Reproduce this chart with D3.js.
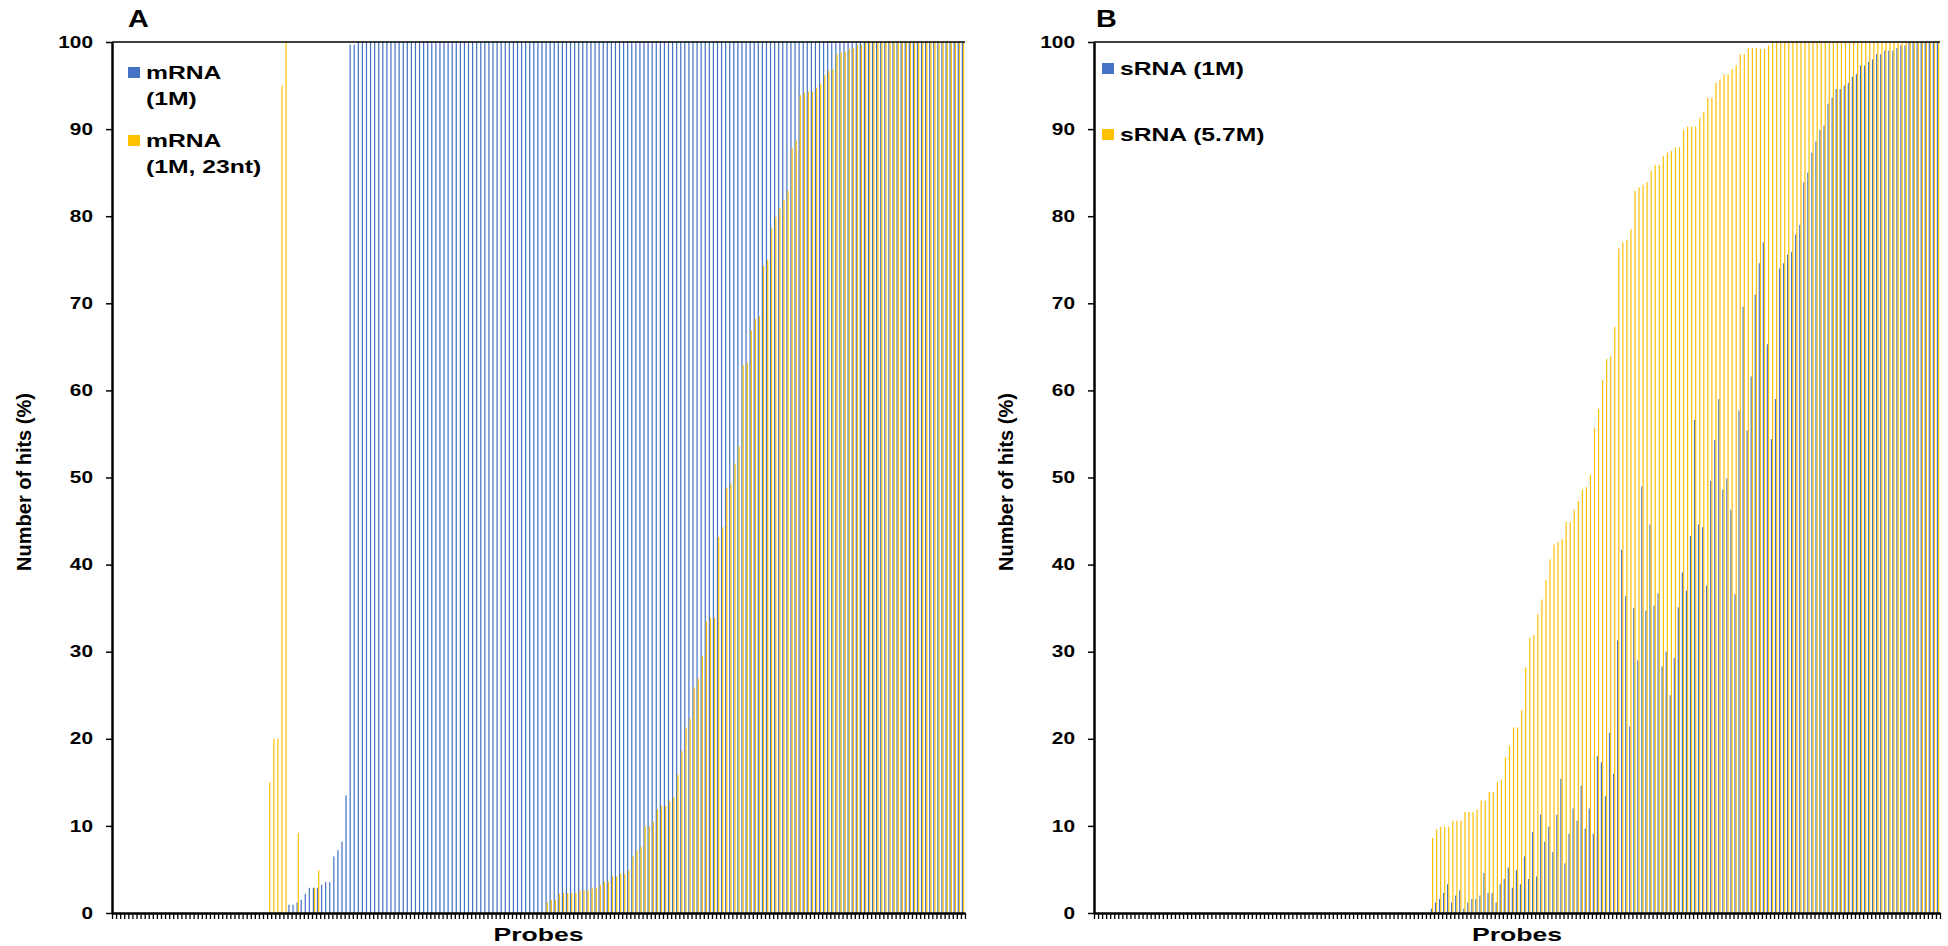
<!DOCTYPE html>
<html>
<head>
<meta charset="utf-8">
<script src="https://cdn.jsdelivr.net/npm/d3@7"></script>
<style>
  body { margin: 0; background: #fff; }
  svg { display: block; font-family: "Liberation Sans", Arial, sans-serif; font-weight: bold; }
</style>
</head>
<body>
<svg id="chart" width="1948" height="946"></svg>
<script>
//
// Data
//

// one slot per probe on the x axis
const probes = d3.range(1, 210);
const yTicks = [0, 10, 20, 30, 40, 50, 60, 70, 80, 90, 100];

// panel A legend + series
const labelsA = [["mRNA", "(1M)"], ["mRNA", "(1M, 23nt)"]];
const mrna1M = [
  0, 0, 0, 0, 0, 0, 0, 0, 0, 0, 0, 0, 0, 0, 0, 0, 0, 0, 0, 0,
  0, 0, 0, 0, 0, 0, 0, 0, 0, 0, 0, 0, 0, 0, 0, 0, 0, 0, 0, 0,
  0, 0, 0, 0.95, 0.95, 1.2, 1.5, 2.2, 2.9, 2.9, 2.9, 3.25, 3.55, 3.55, 6.5, 7.2, 8.2, 13.5, 99.7, 99.7,
  100, 100, 100, 100, 100, 100, 100, 100, 100, 100, 100, 100, 100, 100, 100, 100, 100, 100, 100, 100,
  100, 100, 100, 100, 100, 100, 100, 100, 100, 100, 100, 100, 100, 100, 100, 100, 100, 100, 100, 100,
  100, 100, 100, 100, 100, 100, 100, 100, 100, 100, 100, 100, 100, 100, 100, 100, 100, 100, 100, 100,
  100, 100, 100, 100, 100, 100, 100, 100, 100, 100, 100, 100, 100, 100, 100, 100, 100, 100, 100, 100,
  100, 100, 100, 100, 100, 100, 100, 100, 100, 100, 100, 100, 100, 100, 100, 100, 100, 100, 100, 100,
  100, 100, 100, 100, 100, 100, 100, 100, 100, 100, 100, 100, 100, 100, 100, 100, 100, 100, 100, 100,
  100, 100, 100, 100, 100, 100, 100, 100, 100, 100, 100, 100, 100, 100, 100, 100, 100, 100, 100, 100,
  100, 100, 100, 100, 100, 100, 100, 100, 100
];
const mrna1M23nt = [
  0, 0, 0, 0, 0, 0, 0, 0, 0, 0, 0, 0, 0, 0, 0, 0, 0, 0, 0, 0,
  0, 0, 0, 0, 0, 0, 0, 0, 0, 0, 0, 0, 0, 0, 0, 0, 0, 0, 15, 20,
  20, 95, 100, 0, 0, 9.2, 0, 0, 0, 2.9, 4.9, 0, 0, 0, 0, 0, 0, 0, 0, 0,
  0, 0, 0, 0, 0, 0, 0, 0, 0, 0, 0, 0, 0, 0, 0, 0, 0, 0, 0, 0,
  0, 0, 0, 0, 0, 0, 0, 0, 0, 0, 0, 0, 0, 0, 0, 0, 0, 0, 0, 0,
  0, 0, 0, 0, 0, 0, 1.2, 1.5, 1.5, 2.2, 2.3, 2.3, 2.3, 2.3, 2.6, 2.6, 2.6, 2.9, 2.9, 3.2,
  3.6, 3.6, 4.2, 4.2, 4.5, 4.5, 4.9, 6.5, 7.2, 7.6, 9.9, 9.9, 10.5, 11.9, 12.3, 12.3, 12.9, 13.3, 15.9, 18.6,
  21.3, 22.3, 25.9, 26.9, 29.5, 33.5, 33.9, 33.9, 43.2, 44.3, 48.8, 49.3, 51.6, 53.6, 62.9, 63.2, 66.9, 68.2, 68.5, 74.3,
  75.0, 78.6, 79.9, 80.9, 81.9, 82.9, 87.8, 88.7, 93.9, 94.2, 94.3, 94.3, 94.7, 95.2, 96.2, 96.7, 96.9, 98.6, 98.8, 98.9,
  99.2, 99.3, 99.7, 99.7, 100, 100, 100, 100, 100, 100, 100, 100, 100, 100, 100, 100, 100, 100, 100, 100,
  100, 100, 100, 100, 100, 100, 100, 100, 100
];

// panel B legend + series
const labelsB = [["sRNA (1M)"], ["sRNA (5.7M)"]];
const srna1M = [
  0, 0, 0, 0, 0, 0, 0, 0, 0, 0, 0, 0, 0, 0, 0, 0, 0, 0, 0, 0,
  0, 0, 0, 0, 0, 0, 0, 0, 0, 0, 0, 0, 0, 0, 0, 0, 0, 0, 0, 0,
  0, 0, 0, 0, 0, 0, 0, 0, 0, 0, 0, 0, 0, 0, 0, 0, 0, 0, 0, 0,
  0, 0, 0, 0, 0, 0, 0, 0, 0, 0, 0, 0, 0, 0, 0, 0, 0, 0, 0, 0,
  0, 0, 0, 0.5, 1.2, 1.6, 2.3, 3.3, 1.2, 2.0, 2.6, 0.5, 1.2, 1.6, 1.6, 2.0, 4.6, 2.3, 2.3, 1.2,
  3.3, 3.9, 5.2, 2.9, 4.9, 3.3, 6.5, 3.9, 9.3, 4.2, 11.3, 8.2, 9.9, 7.0, 11.3, 15.4, 5.7, 9.1, 12.0, 10.6,
  14.6, 9.7, 12.0, 9.1, 18.0, 17.3, 13.4, 20.7, 16.0, 31.3, 41.7, 36.4, 21.4, 35.0, 29.0, 49.0, 34.7, 44.6, 35.3, 36.7,
  28.3, 30.0, 25.0, 29.3, 35.1, 39.1, 37.0, 43.3, 56.6, 44.6, 44.3, 37.6, 49.6, 54.3, 59.0, 48.6, 49.9, 46.3, 36.6, 57.7,
  69.6, 55.4, 61.6, 71.0, 74.6, 77.0, 65.3, 54.4, 59.0, 74.0, 74.6, 75.6, 75.9, 77.9, 79.0, 83.9, 85.0, 87.3, 88.6, 89.9,
  90.4, 92.9, 93.6, 94.6, 94.6, 95.0, 95.3, 96.0, 96.3, 97.3, 97.3, 97.7, 98.0, 98.6, 98.6, 99.0, 99.0, 99.0, 99.3, 99.6,
  99.6, 100, 100, 100, 100, 100, 100, 100, 100
];
const srna57M = [
  0, 0, 0, 0, 0, 0, 0, 0, 0, 0, 0, 0, 0, 0, 0, 0, 0, 0, 0, 0,
  0, 0, 0, 0, 0, 0, 0, 0, 0, 0, 0, 0, 0, 0, 0, 0, 0, 0, 0, 0,
  0, 0, 0, 0, 0, 0, 0, 0, 0, 0, 0, 0, 0, 0, 0, 0, 0, 0, 0, 0,
  0, 0, 0, 0, 0, 0, 0, 0, 0, 0, 0, 0, 0, 0, 0, 0, 0, 0, 0, 0,
  0, 0, 0, 8.6, 9.6, 9.9, 9.9, 9.9, 10.6, 10.6, 10.6, 11.6, 11.6, 11.6, 11.9, 12.9, 12.9, 13.9, 13.9, 15.0,
  15.3, 17.9, 19.2, 21.3, 21.3, 23.3, 28.2, 31.6, 31.9, 34.3, 36.0, 38.2, 40.6, 42.3, 42.6, 42.9, 44.9, 44.9, 46.3, 47.3,
  48.6, 48.9, 50.3, 55.7, 57.9, 61.2, 63.6, 63.9, 67.3, 76.3, 77.0, 77.3, 78.5, 82.9, 83.3, 83.6, 83.9, 85.2, 85.9, 85.9,
  86.9, 87.3, 87.5, 87.9, 87.9, 89.9, 90.3, 90.3, 90.3, 91.3, 92.0, 93.6, 93.6, 95.3, 95.7, 96.3, 96.3, 96.9, 97.3, 98.6,
  98.6, 99.3, 99.3, 99.3, 99.2, 99.2, 99.6, 100, 100, 100, 100, 100, 100, 100, 100, 100, 100, 100, 100, 100,
  100, 100, 100, 100, 100, 100, 100, 100, 100, 100, 100, 100, 100, 100, 100, 100, 100, 100, 100, 100,
  100, 100, 100, 100, 100, 100, 100, 100, 100
];

//
// Configuration
//

const colorBlue = "#4472C4";
const colorYellow = "#FFC000";
const plotTop = 42;
const plotBottom = 913;
const textStretch = 1.3; // the original's horizontal text is wide

var svg = d3.select("#chart");

//
// Functions
//

function drawPanel(p) {
  var g = svg.append("g");

  var x = d3.scaleBand().domain(probes).range([p.left, p.right]).padding(0);
  // two thin bars side by side inside each probe slot
  var xs = d3.scaleBand().domain([0, 1]).range([0, x.bandwidth()]).paddingOuter(0.7);
  var slot = d3.scaleLinear().domain([0, probes.length]).range([p.left, p.right]);
  var y = d3.scaleLinear().domain([0, 100]).range([plotBottom, plotTop]);

  [p.series[0], p.series[1]].forEach(function(vals, s) {
    g.append("g")
      .selectAll("rect")
      .data(vals)
      .join("rect")
      .attr("x", (d, i) => x(probes[i]) + xs(s))
      .attr("width", xs.bandwidth())
      .attr("y", d => y(d))
      .attr("height", d => plotBottom - y(d))
      .attr("fill", s ? colorYellow : colorBlue);
  });

  // black line along 100
  g.append("line")
    .attr("x1", p.left).attr("x2", p.right)
    .attr("y1", y(100)).attr("y2", y(100))
    .attr("stroke", "#000").attr("stroke-width", 1.5);

  // x axis: a tick at every slot boundary, no labels
  g.append("g")
    .attr("transform", `translate(0,${plotBottom})`)
    .call(d3.axisBottom(slot).tickValues(d3.range(probes.length + 1)).tickSize(6).tickSizeOuter(0).tickFormat(""))
    .call(a => a.select(".domain").attr("stroke-width", 2.5))
    .call(a => a.selectAll(".tick line").attr("stroke-width", 1.3));

  // y axis
  var ya = g.append("g")
    .attr("transform", `translate(${p.left},0)`)
    .call(d3.axisLeft(y).tickValues(yTicks).tickSize(6).tickSizeOuter(0));
  ya.select(".domain").attr("stroke-width", 2.5);
  ya.selectAll(".tick line").attr("stroke-width", 1.5);
  ya.selectAll(".tick text")
    .attr("x", 0)
    .attr("transform", `translate(-19,0) scale(${textStretch},1)`)
    .attr("font-size", 16)
    .attr("font-family", "Liberation Sans, Arial, sans-serif")
    .attr("font-weight", "bold")
    .attr("fill", "#000");

  // y title
  g.append("text")
    .attr("transform", `translate(${p.left - 81},482) rotate(-90)`)
    .attr("text-anchor", "middle")
    .attr("font-size", 20)
    .text("Number of hits (%)");

  // x title
  g.append("text")
    .attr("transform", `translate(${(p.left + p.right) / 2},941) scale(1.4,1)`)
    .attr("text-anchor", "middle")
    .attr("font-size", 19)
    .text("Probes");

  // panel letter
  g.append("text")
    .attr("transform", `translate(${p.letterX},27) scale(1.2,1)`)
    .attr("font-size", 24)
    .text(p.letter);

  // legend
  p.legend.forEach(function(item, s) {
    var ly = p.legendY[s];
    g.append("rect")
      .attr("x", p.legendX).attr("y", ly - 12)
      .attr("width", 12).attr("height", 11)
      .attr("fill", s ? colorYellow : colorBlue);
    item.forEach(function(line, k) {
      g.append("text")
        .attr("transform", `translate(${p.legendX + 18},${ly + k * 26}) scale(${textStretch},1)`)
        .attr("font-size", 19)
        .text(line);
    });
  });
}

//
// Initialization
//

drawPanel({
  left: 112, right: 965,
  series: [mrna1M, mrna1M23nt],
  legend: labelsA, legendX: 128, legendY: [79, 147],
  letter: "A", letterX: 128
});

drawPanel({
  left: 1094, right: 1940,
  series: [srna1M, srna57M],
  legend: labelsB, legendX: 1102, legendY: [75, 141],
  letter: "B", letterX: 1096
});
</script>
</body>
</html>
